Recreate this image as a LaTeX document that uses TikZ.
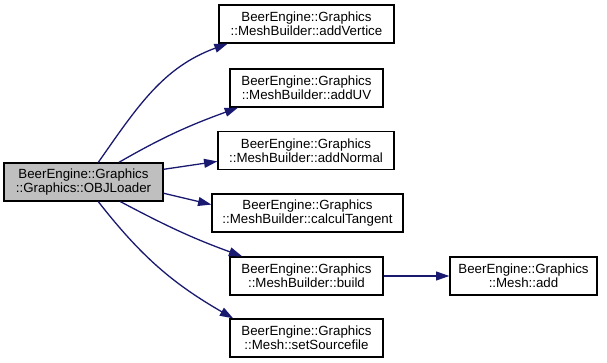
\documentclass[tikz,border=0pt]{standalone}
\usepackage{fontspec}
\setmainfont{Liberation Sans}
\usetikzlibrary{arrows.meta}
\definecolor{edgeblue}{RGB}{25,25,112}
\definecolor{rootgrey}{RGB}{191,191,191}
\begin{document}
\begin{tikzpicture}[x=1pt, y=-1pt,
    fnode/.style={draw=black, line width=1.3pt, fill=white, align=center, inner sep=0pt,
                  minimum height=38pt, font=\fontsize{13.3}{14}\selectfont},
    call/.style={draw=edgeblue, line width=1.3pt, -{Triangle[length=13.3pt,width=8.9pt]}}]
    \useasboundingbox (0,0) rectangle (607,363);
    % caller
    \node[fnode, fill=rootgrey, minimum width=159pt] (objloader) at (83.5,182) {BeerEngine::Graphics\\::Graphics::OBJLoader};
    % callees
    \node[fnode, minimum width=175pt] (addvertice) at (306.5,24) {BeerEngine::Graphics\\::MeshBuilder::addVertice};
    \node[fnode, minimum width=153pt] (adduv) at (306.5,88) {BeerEngine::Graphics\\::MeshBuilder::addUV};
    \node[fnode, minimum width=176pt] (addnormal) at (306,150.5) {BeerEngine::Graphics\\::MeshBuilder::addNormal};
    \node[fnode, minimum width=191pt] (tangent) at (307.5,213) {BeerEngine::Graphics\\::MeshBuilder::calculTangent};
    \node[fnode, minimum width=153pt] (build) at (306.5,276) {BeerEngine::Graphics\\::MeshBuilder::build};
    \node[fnode, minimum width=147pt] (meshadd) at (523.5,276) {BeerEngine::Graphics\\::Mesh::add};
    \node[fnode, minimum width=153pt] (source) at (306.5,338) {BeerEngine::Graphics\\::Mesh::setSourcefile};
    % calls
    \draw[call] (objloader.53) to[out=55, in=200] (addvertice.194);
    \draw[call] (objloader.29) to[out=30, in=200] (adduv.196);
    \draw[call] (objloader.9) -- (addnormal.187);
    \draw[call] (objloader.352) -- (tangent.175);
    \draw[call] (objloader.332) to[out=-28, in=160] (build.163);
    \draw[call] (objloader.307) to[out=-52, in=150] (source.165);
    \draw[call] (build) -- (meshadd);
\end{tikzpicture}
\end{document}
